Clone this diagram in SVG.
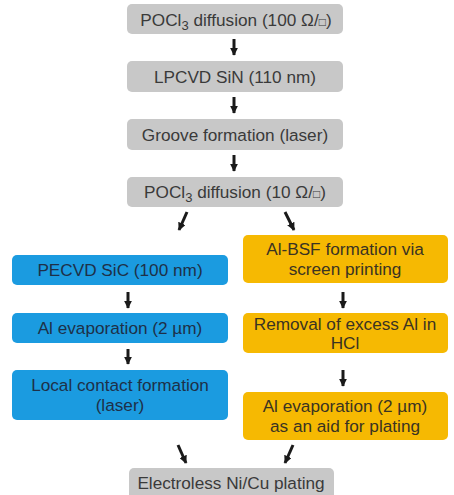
<svg xmlns="http://www.w3.org/2000/svg" width="454" height="495" viewBox="0 0 454 495">
<defs>
<marker id="ah" viewBox="0 0 10 10" refX="9" refY="5" markerWidth="8" markerHeight="8" markerUnits="userSpaceOnUse" orient="auto">
<path d="M0,0 L10,5 L0,10 Z" fill="#1a1a1a"/>
</marker>
<style>
.g{fill:#c8c8c8}
.b{fill:#1b9be0}
.y{fill:#f6b902}
text{font-family:"Liberation Sans",Arial,sans-serif;font-size:17.2px;text-anchor:middle}
.tg{fill:#3a3a3a}
.tb{fill:#1e3048}
.ty{fill:#3a3322}
.c line{stroke:#1a1a1a;stroke-width:3;marker-end:url(#ah)}
</style>
</defs>
<rect width="454" height="495" fill="#fff"/>
<g id="n1"><rect class="g" x="127" y="4" width="216" height="30" rx="5"/><text class="tg" x="236" y="26">POCl<tspan font-size="13" dy="4">3</tspan><tspan dy="-4"> diffusion (100 Ω/</tspan><tspan font-size="12">□</tspan>)</text></g>
<g id="n2"><rect class="g" x="127" y="61" width="216" height="31" rx="5"/><text class="tg" x="235" y="83">LPCVD SiN (110 nm)</text></g>
<g id="n3"><rect class="g" x="127" y="119" width="216" height="31" rx="5"/><text class="tg" x="235" y="141">Groove formation (laser)</text></g>
<g id="n4"><rect class="g" x="127" y="177" width="216" height="30" rx="5"/><text class="tg" x="235" y="198">POCl<tspan font-size="13" dy="4">3</tspan><tspan dy="-4"> diffusion (10 Ω/</tspan><tspan font-size="12">□</tspan>)</text></g>
<g id="b1"><rect class="b" x="12" y="255" width="216" height="30" rx="5"/><text class="tb" x="120" y="276">PECVD SiC (100 nm)</text></g>
<g id="b2"><rect class="b" x="12" y="313" width="216" height="30" rx="5"/><text class="tb" x="120" y="334">Al evaporation (2 µm)</text></g>
<g id="b3"><rect class="b" x="12" y="370" width="216" height="50" rx="5"/><text class="tb" x="120" y="391">Local contact formation</text><text class="tb" x="120" y="410.5">(laser)</text></g>
<g id="y1"><rect class="y" x="243" y="235" width="205" height="48" rx="5"/><text class="ty" x="345" y="255">Al-BSF formation via</text><text class="ty" x="345" y="274.5">screen printing</text></g>
<g id="y2"><rect class="y" x="243" y="313" width="205" height="40" rx="5"/><text class="ty" x="345" y="329.5">Removal of excess Al in</text><text class="ty" x="345" y="349">HCl</text></g>
<g id="y3"><rect class="y" x="243" y="392" width="205" height="48" rx="5"/><text class="ty" x="345" y="412">Al evaporation (2 µm)</text><text class="ty" x="345" y="431.5">as an aid for plating</text></g>
<g id="n5"><rect class="g" x="129" y="468" width="205" height="34" rx="5"/><text class="tg" x="231" y="489">Electroless Ni/Cu plating</text></g>
<g class="c" id="connectors">
<line x1="234" y1="39" x2="234" y2="55"/>
<line x1="234" y1="97" x2="234" y2="113"/>
<line x1="234" y1="155" x2="234" y2="171"/>
<line x1="187" y1="212" x2="179" y2="230"/>
<line x1="285" y1="212" x2="294" y2="230"/>
<line x1="128" y1="292" x2="128" y2="308"/>
<line x1="128" y1="349" x2="128" y2="364"/>
<line x1="343" y1="292" x2="343" y2="308"/>
<line x1="343" y1="370" x2="343" y2="386"/>
<line x1="178" y1="445" x2="186" y2="463"/>
<line x1="293" y1="445" x2="285" y2="463"/>
</g>
</svg>
